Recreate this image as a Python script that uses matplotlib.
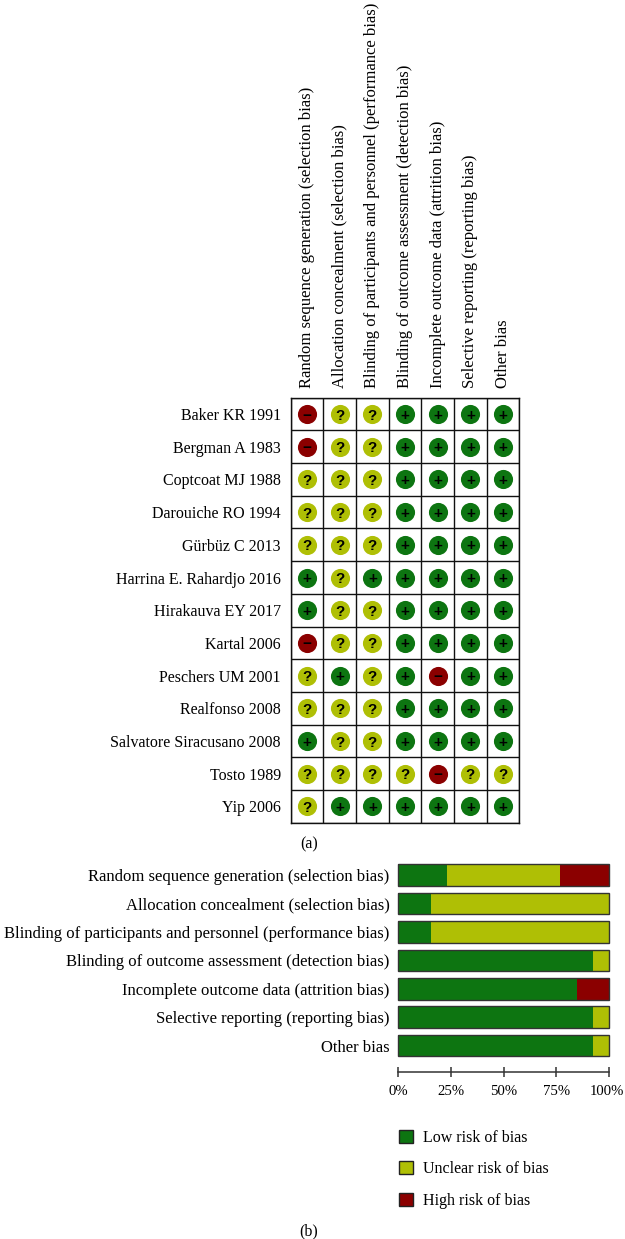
import numpy as np
import matplotlib
matplotlib.use("Agg")
import matplotlib.pyplot as plt
from matplotlib.patches import Patch
from matplotlib.transforms import ScaledTranslation

plt.rcParams['font.family'] = ['Liberation Serif', 'DejaVu Serif']

W, H = 625, 1239

## DATA
domains = ["Random sequence generation (selection bias)",
           "Allocation concealment (selection bias)",
           "Blinding of participants and personnel (performance bias)",
           "Blinding of outcome assessment (detection bias)",
           "Incomplete outcome data (attrition bias)",
           "Selective reporting (reporting bias)",
           "Other bias"]

studies = ["Baker KR 1991", "Bergman A 1983", "Coptcoat MJ 1988", "Darouiche RO 1994",
           "Gürbüz C 2013", "Harrina E. Rahardjo 2016", "Hirakauva EY 2017", "Kartal 2006",
           "Peschers UM 2001", "Realfonso 2008", "Salvatore Siracusano 2008", "Tosto 1989",
           "Yip 2006"]

judgements = ["-??++++",
              "-??++++",
              "???++++",
              "???++++",
              "???++++",
              "+?+++++",
              "+??++++",
              "-??++++",
              "?+?+-++",
              "???++++",
              "+??++++",
              "????-??",
              "?++++++"]

low_pct = [23.1, 15.4, 15.4, 92.3, 84.6, 92.3, 92.3]
unclear_pct = [53.8, 84.6, 84.6, 7.7, 0, 7.7, 7.7]
high_pct = [23.1, 0, 0, 0, 15.4, 0, 0]

x_ticks = [0, 25, 50, 75, 100]
x_ticklabels = ["0%", "25%", "50%", "75%", "100%"]

GREEN = "#0d7511"
YELLOW = "#afbf05"
RED = "#8b0000"
colors = {"+": GREEN, "?": YELLOW, "-": RED}
symbols = {"+": "+", "?": "?", "-": "\u2212"}
FS = 11.5
FS_DOMAIN = 12


def px_axes(fig, left, top, right, bottom):
    ## axes placed by pixel box of the reference
    return fig.add_axes([left / W, 1 - bottom / H, (right - left) / W, (bottom - top) / H])


fig = plt.figure(figsize=(W / 100, H / 100), dpi=100)

## summary table (a)
ax = px_axes(fig, 290.7, 397.7, 519.3, 822.8)
ax.set_xlim(0, 7)
ax.set_ylim(13, 0)
ax.set_xticks(np.arange(8), minor=True)
ax.set_yticks(np.arange(14), minor=True)
ax.grid(which="minor", color="#111111", linewidth=1.0)
ax.set_axisbelow(True)
ax.tick_params(which="minor", length=0)
ax.xaxis.tick_top()
ax.set_xticks(np.arange(7) + 0.5)
ax.set_xticklabels(domains, rotation=90, ha="center", va="bottom", fontsize=FS_DOMAIN)
ax.set_yticks(np.arange(13) + 0.5)
ax.set_yticklabels(studies, fontsize=FS)
ax.tick_params(which="major", length=0, pad=7)
for s in ax.spines.values():
    s.set_linewidth(1.0)
    s.set_color("#111111")

for r, row in enumerate(judgements):
    for c, j in enumerate(row):
        ax.scatter(c + 0.5, r + 0.5, s=190, color=colors[j], linewidths=0, zorder=3)
        ax.text(c + 0.5, r + 0.5, symbols[j], ha="center", va="center_baseline", fontsize=11,
                fontweight="bold", family="Liberation Sans", color="black", zorder=4)

fig.text(309 / W, 1 - 844 / H, "(a)", ha="center", va="center", fontsize=FS)

## stacked bars (b)
ax2 = px_axes(fig, 398.5, 858, 609, 1072)
ypos = np.arange(7)
low = np.array(low_pct)
unclear = np.array(unclear_pct)
high = np.array(high_pct)
bar_h = 0.757
ax2.barh(ypos, low, height=bar_h, color=GREEN, linewidth=0)
ax2.barh(ypos, unclear, left=low, height=bar_h, color=YELLOW, linewidth=0)
ax2.barh(ypos, high, left=low + unclear, height=bar_h, color=RED, linewidth=0)
ax2.barh(ypos, low + unclear + high, height=bar_h, fill=False, edgecolor="#333333",
         linewidth=1.0, clip_on=False)
ax2.set_xlim(0, 100)
ax2.set_ylim(6.93, -0.606)
ax2.set_yticks(ypos)
ax2.set_yticklabels(domains, fontsize=FS_DOMAIN)
ax2.set_xticks(x_ticks)
ax2.set_xticklabels(x_ticklabels, fontsize=10.6)
ax2.tick_params(axis="y", length=0, pad=6.5)
ax2.tick_params(axis="x", direction="inout", length=6.5, width=1.1, pad=6, color="#333333")
for name in ["top", "left", "right"]:
    ax2.spines[name].set_visible(False)
ax2.spines["bottom"].set_color("#333333")
ax2.spines["bottom"].set_linewidth(1.1)

## 100% sits right at the edge of the picture, nudge it in
last = ax2.get_xticklabels()[-1]
last.set_transform(last.get_transform() + ScaledTranslation(-2 / 100, 0, fig.dpi_scale_trans))

handles = [Patch(facecolor=GREEN, edgecolor="#222222", label="Low risk of bias"),
           Patch(facecolor=YELLOW, edgecolor="#222222", label="Unclear risk of bias"),
           Patch(facecolor=RED, edgecolor="#222222", label="High risk of bias")]
fig.legend(handles=handles, loc="upper left", bbox_to_anchor=(399 / W, 1 - 1129.5 / H),
           frameon=False, fontsize=FS, borderaxespad=0, borderpad=0, handlelength=0.88,
           handleheight=0.88, handletextpad=0.64, labelspacing=0.97)

fig.text(309 / W, 1 - 1231 / H, "(b)", ha="center", va="center", fontsize=FS)

fig.savefig("out.png", dpi=100)
